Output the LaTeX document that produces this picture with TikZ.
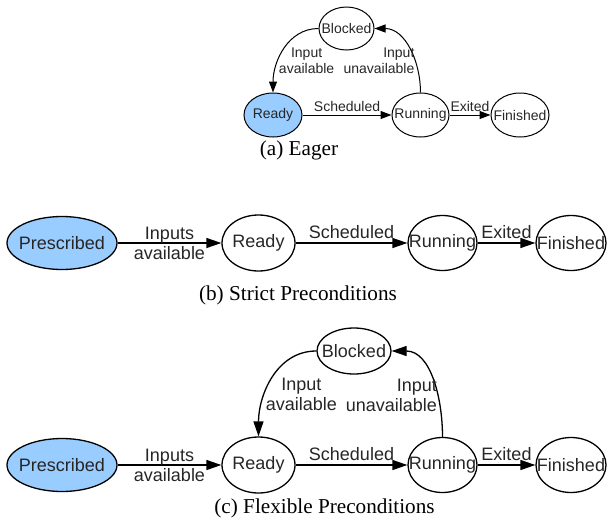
\documentclass[tikz,border=0pt]{standalone}
\usepackage{fontspec}
\setmainfont{Liberation Serif}
\newfontfamily\diagfont{Liberation Sans}
\usetikzlibrary{shapes.geometric,arrows.meta}
\definecolor{presblue}{HTML}{99CCFF}
\definecolor{txtgray}{HTML}{262626}

\begin{document}
\begin{tikzpicture}[
    x=0.5pt, y=-0.5pt,
    st/.style={ellipse, draw, line width=0.5pt, inner sep=-20pt, text=txtgray},
    sta/.style={st, font=\diagfont\fontsize{7}{8}\selectfont},
    stb/.style={st, line width=0.65pt, font=\diagfont\fontsize{9}{10}\selectfont},
    pres/.style={fill=presblue},
    tra/.style={-{Triangle[length=5.5pt,width=4pt]}, line width=0.5pt},
    trb/.style={-{Triangle[length=7.5pt,width=5pt]}, line width=0.65pt},
    lba/.style={font=\diagfont\fontsize{7}{8}\selectfont, text=txtgray, inner sep=1.5pt},
    lbb/.style={font=\diagfont\fontsize{9}{10}\selectfont, text=txtgray, inner sep=2pt},
    subcap/.style={font=\fontsize{10.6}{12}\selectfont, inner sep=0pt}
  ]
  \useasboundingbox (0,0) rectangle (610,525);
  % (a) Eager
  \node[sta, minimum width=27.5pt, minimum height=21.5pt] (blkA) at (346.5,28.5) {Blocked};
  \node[sta, pres, minimum width=29pt, minimum height=22pt] (rdyA) at (273,115) {Ready};
  \node[sta, minimum width=28.5pt, minimum height=22pt] (runA) at (420.5,115) {Running};
  \node[sta, minimum width=29pt, minimum height=22pt] (finA) at (520,115) {Finished};
  \draw[tra] (rdyA) -- node[lba, above] {Scheduled} (runA);
  \draw[tra] (runA) -- node[lba, above] {Exited} (finA);
  \draw[tra] (blkA.west) to[out=180, in=90]
    node[lba, pos=.65, anchor=west, align=center, inner sep=0pt] {Input\\available} (rdyA.north);
  \draw[tra] (runA.north) to[out=90, in=0]
    node[lba, pos=.35, anchor=east, align=right, inner sep=0pt] {Input\\unavailable} (blkA.east);
  \node[subcap] (capA) at (299,150) {(a) Eager};
  % (b) and (c): same chain of states
  \foreach \r/\y in {B/243, C/465}{
    \node[stb, pres, minimum width=55pt, minimum height=26.5pt] (pre\r) at (62,\y) {Prescribed};
    \node[stb, minimum width=36.5pt, minimum height=28pt] (rdy\r) at (258.5,\y) {Ready};
    \node[stb, minimum width=34.5pt, minimum height=27.5pt] (run\r) at (442.5,\y) {Running};
    \node[stb, minimum width=35pt, minimum height=27.5pt] (fin\r) at (571,\y) {Finished};
    \draw[trb] (pre\r) -- node[lbb, align=center, inner sep=0pt] {Inputs\\available} (rdy\r);
    \draw[trb] (rdy\r) -- node[lbb, above] {Scheduled} (run\r);
    \draw[trb] (run\r) -- node[lbb, above] {Exited} (fin\r);
  }
  \node[subcap] (capB) at (298,295) {(b) Strict Preconditions};
  % (c) Flexible: blocked state
  \node[stb, minimum width=37pt, minimum height=23pt] (blkC) at (354,351) {Blocked};
  \draw[trb] (blkC.west) to[out=180, in=90]
    node[lbb, pos=.65, anchor=west, align=center, inner sep=0pt] {Input\\available} (rdyC.north);
  \draw[trb] (runC.north) to[out=90, in=0]
    node[lbb, pos=.35, anchor=east, align=right, inner sep=0pt] {Input\\unavailable} (blkC.east);
  \node[subcap] (capC) at (324.5,508) {(c) Flexible Preconditions};
\end{tikzpicture}
\end{document}
